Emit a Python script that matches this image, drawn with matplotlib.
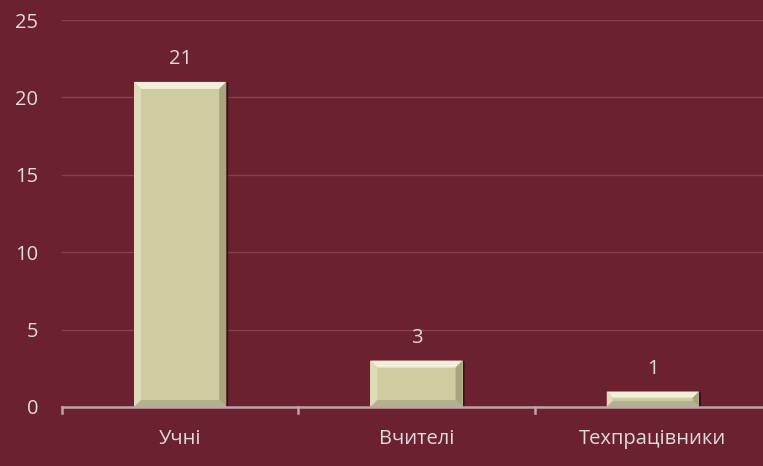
import matplotlib
matplotlib.use("Agg")
import matplotlib.pyplot as plt
from matplotlib.patches import Polygon
from matplotlib.transforms import IdentityTransform

categories = ["Учні", "Вчителі", "Техпрацівники"]
values = [21, 3, 1]
yticks = [0, 5, 10, 15, 20, 25]

bg = "#6B2130"
bar_color = "#D0CCA2"
txt = "#DCDCDC"

plt.rcParams['font.family'] = ['Open Sans', 'DejaVu Sans']
FS = 14.5

fig = plt.figure(figsize=(7.63, 4.66), dpi=100, facecolor=bg)
ax = fig.add_axes([62/763, 1-407/466, 709/763, (407-20)/466])
ax.set_facecolor(bg)

x = list(range(len(categories)))
bars = ax.bar(x, values, width=0.39, color=bar_color, zorder=3)
ax.set_xlim(-0.5, len(categories) - 0.5)
ax.set_ylim(0, 25)
ax.set_yticks(yticks)
ax.set_yticklabels([str(t) for t in yticks], color=txt, fontsize=FS)
ax.set_xticks(x)
ax.set_xticklabels(categories, color=txt, fontsize=FS)
ax.tick_params(axis='y', length=0, pad=17)
ax.tick_params(axis='x', length=0, pad=16)
for t in [-0.5, 0.5, 1.5]:
    ax.plot([t, t], [0, -0.38], color="#BFA3A8", lw=1.8, clip_on=False, zorder=4)
ax.grid(axis='y', color="#87404D", lw=1, zorder=0)
for s in ['top', 'right', 'left']:
    ax.spines[s].set_visible(False)
ax.spines['bottom'].set_color("#BFA3A8")
ax.spines['bottom'].set_linewidth(1.8)
ax.spines['bottom'].set_zorder(5)

fig.canvas.draw()
b = 7  # bevel in pixels
for bar, v in zip(bars, values):
    bb = bar.get_window_extent()
    x0, y0, x1, y1 = bb.x0, bb.y0, bb.x1, bb.y1
    bw = min(b, (y1 - y0) / 2.5)
    ax.add_patch(Polygon([(x1, y0), (x1 + 2, y0), (x1 + 2, y1 - 1), (x1, y1)], closed=True,
                         transform=IdentityTransform(), facecolor="#3a1018", edgecolor='none', zorder=2))
    facets = [
        ([(x0, y1), (x1, y1), (x1 - bw, y1 - bw), (x0 + bw, y1 - bw)], "#F1EFD9"),
        ([(x0, y0), (x0, y1), (x0 + bw, y1 - bw), (x0 + bw, y0 + bw)], "#DEDBB8"),
        ([(x1, y0), (x1, y1), (x1 - bw, y1 - bw), (x1 - bw, y0 + bw)], "#A8A47E"),
        ([(x0, y0), (x1, y0), (x1 - bw, y0 + bw), (x0 + bw, y0 + bw)], "#B5B18C"),
    ]
    for pts, c in facets:
        ax.add_patch(Polygon(pts, closed=True, transform=IdentityTransform(),
                             facecolor=c, edgecolor='none', zorder=4))
    ax.annotate(str(v), (bar.get_x() + bar.get_width() / 2, v), xytext=(0, 9),
                textcoords='offset points', ha='center', va='bottom', color=txt, fontsize=FS)

fig.savefig("out.png", dpi=100, facecolor=bg)
